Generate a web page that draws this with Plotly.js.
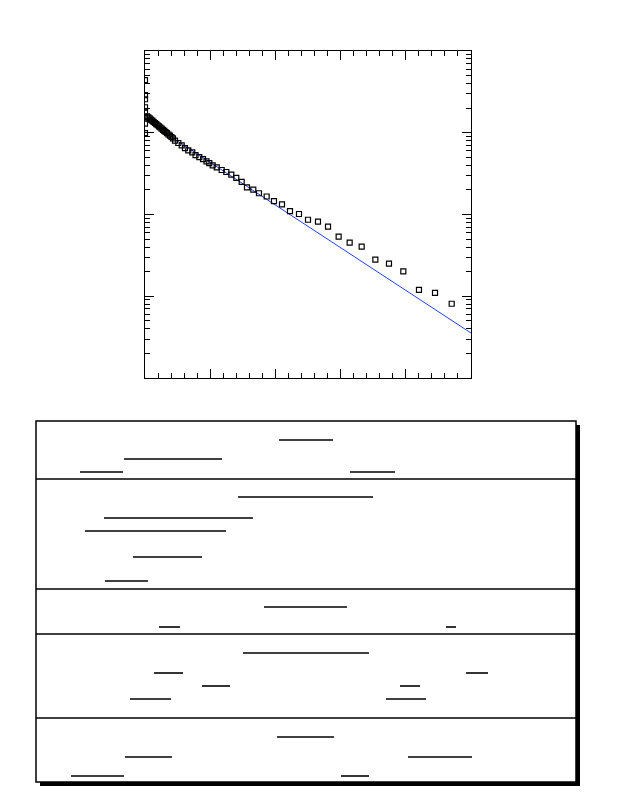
<!DOCTYPE html>
<html>
<head>
<meta charset="utf-8">
<script src="https://cdn.plot.ly/plotly-3.0.1.min.js"></script>
<style>
  html, body { margin: 0; padding: 0; background: #fff; }
  #chart { width: 618px; height: 800px; }
</style>
</head>
<body>
<div id="chart"></div>
<script>
// ---- data ----
var pointX = [
  0, 0, 0, 0, 0, 0, 0, 0,
  0.031, 0.051, 0.071, 0.092, 0.112, 0.132, 0.153, 0.173, 0.193, 0.215,
  0.235, 0.255, 0.276, 0.296, 0.316, 0.337, 0.360, 0.383, 0.406, 0.429,
  0.460, 0.511, 0.563, 0.613, 0.664, 0.725, 0.775, 0.833, 0.890, 0.943,
  0.986, 1.038, 1.100, 1.176, 1.247, 1.324, 1.400, 1.483, 1.564, 1.661,
  1.748, 1.866, 1.978, 2.101, 2.224, 2.362, 2.500, 2.653, 2.807, 2.970,
  3.139, 3.323, 3.533, 3.742, 3.962, 4.202, 4.448, 4.704
];
var pointY = [
  0.440, 0.288, 0.257, 0.205, 0.176, 0.157, 0.129, 0.0987,
  0.159, 0.1545, 0.150, 0.145, 0.1404, 0.136, 0.1316, 0.1276, 0.1236, 0.1197,
  0.1159, 0.1124, 0.1086, 0.1054, 0.1021, 0.0988, 0.0952, 0.0920, 0.0887, 0.0855,
  0.0800, 0.0749, 0.0700, 0.0650, 0.0608, 0.0575, 0.0531, 0.0502, 0.0475, 0.0446,
  0.0424, 0.0399, 0.0377, 0.0350, 0.0331, 0.0307, 0.0280, 0.0250, 0.0215, 0.0201,
  0.0182, 0.0166, 0.0146, 0.0133, 0.0110, 0.01014, 0.00863, 0.00817, 0.00710, 0.00535,
  0.00452, 0.00404, 0.00280, 0.00250, 0.00201, 0.00120, 0.00110, 0.00081
];
var fitX = [0, 5];
var fitY = [0.1444, 0.000355];

// ---- layout helpers (pixel -> paper coordinates of the plot frame) ----
var PL = 145, PR = 471, PT = 51, PB = 378;
function fx(px) { return (px - PL) / (PR - PL); }
function fy(py) { return (PB - py) / (PB - PT); }

// text box below the plot (its text is not drawn in the reference, only rules)
var box = { x0: 36, y0: 421, x1: 576, y1: 782, shadow: 4 };
var dividers = [479, 589, 634, 718];
var underlines = [
  [279, 333, 440], [124, 222, 459], [80, 123, 472], [350, 395, 472],
  [238, 373, 497], [104, 253, 518], [85, 226, 531], [133, 202, 557], [105, 148, 581],
  [264, 347, 607], [159, 180, 627], [446, 456, 627],
  [243, 369, 653], [154, 183, 673], [466, 488, 673], [202, 230, 686], [400, 420, 686],
  [130, 171, 699], [386, 426, 699],
  [277, 334, 737], [125, 172, 757], [408, 472, 757], [71, 124, 776], [341, 369, 776]
];

var shapes = [];
shapes.push({ type: 'rect', xref: 'paper', yref: 'paper',
  x0: fx(box.x0 + box.shadow), x1: fx(box.x1 + box.shadow),
  y0: fy(box.y0 + box.shadow), y1: fy(box.y1 + box.shadow),
  fillcolor: '#000', line: { width: 0 } });
shapes.push({ type: 'rect', xref: 'paper', yref: 'paper',
  x0: fx(box.x0), x1: fx(box.x1), y0: fy(box.y0), y1: fy(box.y1),
  fillcolor: '#fff', line: { color: '#000', width: 1.5 } });
dividers.forEach(function (d) {
  shapes.push({ type: 'line', xref: 'paper', yref: 'paper',
    x0: fx(box.x0), x1: fx(box.x1), y0: fy(d), y1: fy(d),
    line: { color: '#000', width: 1.6 } });
});
underlines.forEach(function (u) {
  shapes.push({ type: 'line', xref: 'paper', yref: 'paper',
    x0: fx(u[0]), x1: fx(u[1]), y0: fy(u[2]), y1: fy(u[2]),
    line: { color: '#000', width: 1.6 } });
});

var traces = [
  { x: fitX, y: fitY, type: 'scatter', mode: 'lines',
    line: { color: '#1f3fff', width: 1 }, hoverinfo: 'skip' },
  { x: pointX, y: pointY, type: 'scatter', mode: 'markers',
    marker: { symbol: 'square-open', size: 5, color: '#000', line: { width: 1.2, color: '#000' } } }
];

var layout = {
  width: 618, height: 800,
  margin: { l: PL, r: 618 - PR, t: PT, b: 800 - PB, pad: 0 },
  paper_bgcolor: '#fff', plot_bgcolor: '#fff',
  showlegend: false,
  font: { family: 'Liberation Sans, Arial, sans-serif', color: '#000' },
  xaxis: {
    range: [0, 5], dtick: 1, tick0: 0,
    showgrid: false, zeroline: false, showticklabels: false,
    showline: true, linecolor: '#000', linewidth: 1, mirror: 'ticks',
    ticks: 'inside', ticklen: 9, tickcolor: '#000', tickwidth: 1,
    minor: { dtick: 0.2, tick0: 0, ticks: 'inside', ticklen: 5, tickcolor: '#000', tickwidth: 1, showgrid: false }
  },
  yaxis: {
    type: 'log', range: [-4, 0], dtick: 1,
    showgrid: false, zeroline: false, showticklabels: false,
    showline: true, linecolor: '#000', linewidth: 1, mirror: 'ticks',
    ticks: 'inside', ticklen: 9, tickcolor: '#000', tickwidth: 1,
    minor: { dtick: 'D1', ticks: 'inside', ticklen: 5, tickcolor: '#000', tickwidth: 1, showgrid: false }
  },
  shapes: shapes
};

Plotly.newPlot('chart', traces, layout, { displayModeBar: false, staticPlot: true });
</script>
</body>
</html>
